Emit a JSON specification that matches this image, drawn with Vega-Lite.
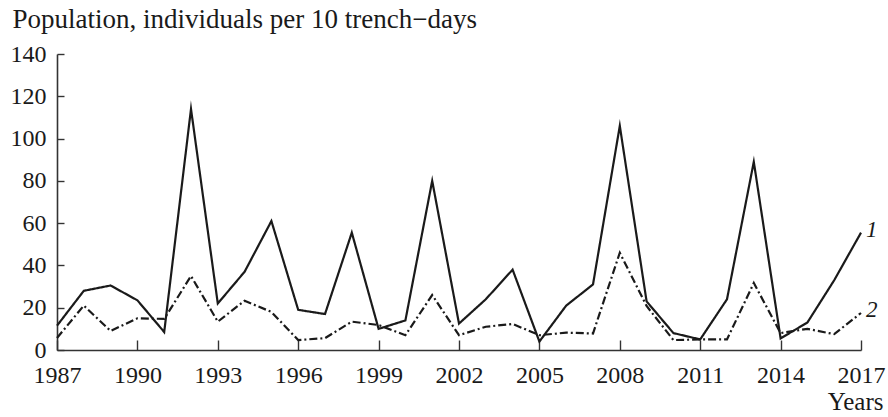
{
  "$schema": "https://vega.github.io/schema/vega-lite/v6.json",
  "width": 804,
  "height": 296,
  "autosize": {"type": "none"},
  "padding": {"left": 57, "top": 54, "right": 27, "bottom": 67},
  "background": "white",
  "config": {
    "view": {"stroke": null},
    "axis": {
      "labelFont": "Liberation Serif",
      "titleFont": "Liberation Serif",
      "labelFontSize": 24,
      "titleFontSize": 25,
      "labelColor": "#1a1a1a",
      "titleColor": "#1a1a1a",
      "domainColor": "#333333",
      "domainWidth": 1.6,
      "tickColor": "#333333",
      "tickWidth": 1.4,
      "grid": false,
      "labelFlush": false,
      "labelOverlap": false,
      "titleFontWeight": "normal"
    }
  },
  "data": {
    "values": [
      {"year": 1987, "series": "1", "value": 11.5},
      {"year": 1988, "series": "1", "value": 28},
      {"year": 1989, "series": "1", "value": 30.5},
      {"year": 1990, "series": "1", "value": 23.5},
      {"year": 1991, "series": "1", "value": 8.5},
      {"year": 1992, "series": "1", "value": 114},
      {"year": 1993, "series": "1", "value": 22},
      {"year": 1994, "series": "1", "value": 37},
      {"year": 1995, "series": "1", "value": 61},
      {"year": 1996, "series": "1", "value": 19},
      {"year": 1997, "series": "1", "value": 17},
      {"year": 1998, "series": "1", "value": 55.5},
      {"year": 1999, "series": "1", "value": 10},
      {"year": 2000, "series": "1", "value": 14},
      {"year": 2001, "series": "1", "value": 80},
      {"year": 2002, "series": "1", "value": 12.5},
      {"year": 2003, "series": "1", "value": 24},
      {"year": 2004, "series": "1", "value": 38},
      {"year": 2005, "series": "1", "value": 4},
      {"year": 2006, "series": "1", "value": 21},
      {"year": 2007, "series": "1", "value": 31},
      {"year": 2008, "series": "1", "value": 106},
      {"year": 2009, "series": "1", "value": 23},
      {"year": 2010, "series": "1", "value": 8},
      {"year": 2011, "series": "1", "value": 5},
      {"year": 2012, "series": "1", "value": 24},
      {"year": 2013, "series": "1", "value": 89},
      {"year": 2014, "series": "1", "value": 5.5},
      {"year": 2015, "series": "1", "value": 13},
      {"year": 2016, "series": "1", "value": 33},
      {"year": 2017, "series": "1", "value": 55.5},
      {"year": 1987, "series": "2", "value": 5.7},
      {"year": 1988, "series": "2", "value": 21},
      {"year": 1989, "series": "2", "value": 9},
      {"year": 1990, "series": "2", "value": 15},
      {"year": 1991, "series": "2", "value": 14.7},
      {"year": 1992, "series": "2", "value": 35},
      {"year": 1993, "series": "2", "value": 13.4},
      {"year": 1994, "series": "2", "value": 23.3},
      {"year": 1995, "series": "2", "value": 18},
      {"year": 1996, "series": "2", "value": 4.7},
      {"year": 1997, "series": "2", "value": 5.6},
      {"year": 1998, "series": "2", "value": 13.4},
      {"year": 1999, "series": "2", "value": 11.8},
      {"year": 2000, "series": "2", "value": 7},
      {"year": 2001, "series": "2", "value": 26},
      {"year": 2002, "series": "2", "value": 7},
      {"year": 2003, "series": "2", "value": 11},
      {"year": 2004, "series": "2", "value": 12.3},
      {"year": 2005, "series": "2", "value": 7},
      {"year": 2006, "series": "2", "value": 8.2},
      {"year": 2007, "series": "2", "value": 7.8},
      {"year": 2008, "series": "2", "value": 46},
      {"year": 2009, "series": "2", "value": 20.8},
      {"year": 2010, "series": "2", "value": 4.7},
      {"year": 2011, "series": "2", "value": 5},
      {"year": 2012, "series": "2", "value": 5},
      {"year": 2013, "series": "2", "value": 31.7},
      {"year": 2014, "series": "2", "value": 8},
      {"year": 2015, "series": "2", "value": 10},
      {"year": 2016, "series": "2", "value": 7.5},
      {"year": 2017, "series": "2", "value": 17.5}
    ]
  },
  "layer": [
    {
      "mark": {"type": "line", "strokeWidth": 2.2, "strokeJoin": "miter", "strokeMiterLimit": 10},
      "encoding": {
        "x": {
          "field": "year",
          "type": "quantitative",
          "scale": {"domain": [1987, 2017], "nice": false, "zero": false},
          "axis": {
            "values": [1987, 1990, 1993, 1996, 1999, 2002, 2005, 2008, 2011, 2014, 2017],
            "format": "d",
            "tickSize": -10,
            "labelPadding": 23,
            "title": "Years",
            "titleAlign": "right",
            "titleX": 826,
            "titleY": 59,
            "titleBaseline": "alphabetic"
          }
        },
        "y": {
          "field": "value",
          "type": "quantitative",
          "scale": {"domain": [0, 140], "nice": false},
          "axis": {
            "values": [0, 20, 40, 60, 80, 100, 120, 140],
            "tickSize": -7,
            "labelPadding": 18,
            "title": "Population, individuals per 10 trench−days",
            "titleFontSize": 27,
            "titleAngle": 0,
            "titleAlign": "left",
            "titleBaseline": "alphabetic",
            "titleX": -45,
            "titleY": -27
          }
        },
        "detail": {"field": "series"},
        "color": {"value": "#1a1a1a"},
        "strokeDash": {
          "field": "series",
          "type": "nominal",
          "scale": {"domain": ["1", "2"], "range": [[1, 0], [8, 3, 2, 3]]},
          "legend": null
        }
      }
    },
    {
      "transform": [{"filter": "datum.year == 2017"}],
      "mark": {"type": "text", "font": "Liberation Serif", "fontStyle": "italic", "fontSize": 23, "align": "left", "baseline": "middle", "dx": 5, "dy": -3, "color": "#1a1a1a"},
      "encoding": {
        "x": {"field": "year", "type": "quantitative"},
        "y": {"field": "value", "type": "quantitative"},
        "text": {"field": "series"}
      }
    }
  ]
}
